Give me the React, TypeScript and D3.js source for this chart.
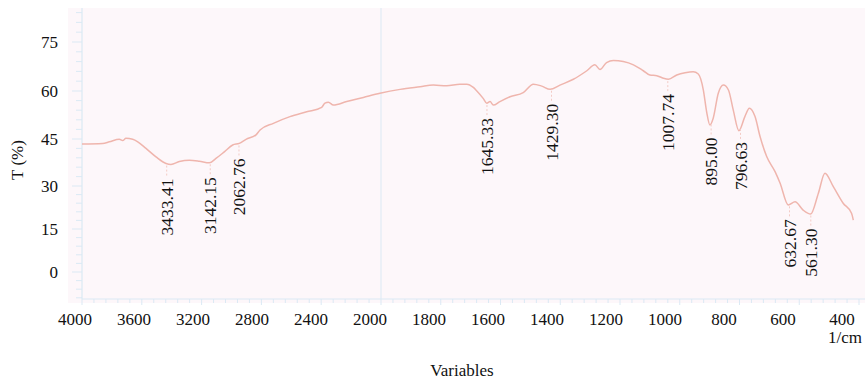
import React from 'react';
import * as d3 from 'd3';

// Spectrum (wavenumber in 1/cm, transmittance in %)
const wavenumbers = [4000, 3862, 3817, 3750, 3728, 3706, 3661, 3627, 3572, 3505, 3438, 3405, 3349, 3282, 3215, 3148, 3104, 3048, 2992, 2948, 2903, 2836, 2809, 2720, 2609, 2497, 2397, 2375, 2352, 2319, 2229, 2118, 2007,
  1936, 1869, 1825, 1780, 1736, 1713, 1691, 1680, 1658, 1646, 1635, 1624, 1602, 1568, 1524, 1490, 1462, 1434, 1401, 1356, 1311, 1284, 1267, 1245, 1222, 1189, 1155, 1122, 1100, 1077, 1055, 1038, 1010, 982, 955, 938, 921, 910, 899, 888, 871, 854, 837, 821, 802, 782, 767, 748, 731, 709, 681, 664, 637, 614, 587, 562, 536, 514, 486, 453, 425, 419];
const transmittance = [43.4, 43.6, 44.1, 44.9, 44.5, 45.2, 44.9, 44.1, 42.0, 39.3, 37.2, 36.9, 37.8, 38.2, 37.9, 37.4, 38.8, 40.9, 43.1, 43.6, 44.9, 46.3, 47.8, 49.9, 52.0, 53.5, 54.9, 56.2, 56.5, 55.6, 56.7, 58.0, 59.3,
  60.5, 61.3, 61.8, 61.6, 62.1, 62.1, 61.1, 60.1, 57.7, 56.2, 56.7, 55.6, 56.7, 58.2, 59.5, 62.1, 61.5, 60.5, 61.8, 63.6, 66.2, 68.0, 66.6, 68.7, 69.3, 69.0, 68.0, 66.2, 64.9, 64.7, 63.9, 63.6, 64.9, 65.6, 65.9, 65.2, 60.3, 53.5, 49.4, 51.5, 59.3, 61.8, 60.3, 54.1, 47.6, 52.0, 54.6, 52.0, 45.7, 39.4, 34.6, 30.9, 23.4, 24.5, 21.6, 20.2, 27.5, 34.1, 29.8, 24.0, 20.5, 18.1];

const xTickValues = [4000, 3600, 3200, 2800, 2400, 2000, 1800, 1600, 1400, 1200, 1000, 800, 600, 400];
const yTickValues = [0, 15, 30, 45, 60, 75];

const peakLabels = ['3433.41', '3142.15', '2062.76', '1645.33', '1429.30', '1007.74', '895.00', '796.63', '632.67', '561.30'];
const peakPositions = [3433.41, 3142.15, 2950, 1645.33, 1429.3, 1040, 895, 796.63, 632.67, 561.3];

const W = 865;
const H = 381;
const FONT = "'Liberation Serif', 'Times New Roman', serif";

export default function App() {
  const x = d3.scaleLinear().domain([4000, 2000, 400]).range([82, 381, 859]);
  const y = d3.scaleLinear().domain([0, 15, 30, 45, 60, 75]).range([272, 229, 186, 139, 91, 42]);
  const xLabel = d3.scalePoint<string>().domain(xTickValues.map(String)).range([75, 842]);

  const data = wavenumbers.map((w, i) => ({ w, t: transmittance[i] }));
  const line = d3.line<{ w: number; t: number }>()
    .x((d) => x(d.w))
    .y((d) => y(d.t))
    .curve(d3.curveMonotoneX);

  const tAt = (w: number) => {
    const asc = [...data].reverse();
    const i = d3.bisector((d: { w: number }) => d.w).left(asc, w);
    const a = asc[Math.max(0, i - 1)];
    const b = asc[Math.min(asc.length - 1, i)];
    if (a.w === b.w) return a.t;
    return a.t + ((w - a.w) / (b.w - a.w)) * (b.t - a.t);
  };

  const plotTop = 8;
  const plotBottom = 299;
  const axisColor = '#dbe9f4';

  const xMinor: number[] = [];
  for (let v = 4000; v > 2000; v -= 80) xMinor.push(v);
  for (let v = 2000; v >= 400; v -= 40) xMinor.push(v);
  const yMinor: number[] = [];
  for (let v = -9; v <= 84; v += 3) yMinor.push(v);

  return (
    <svg width={W} height={H} style={{ display: 'block', position: 'absolute', left: 0, top: 0, background: '#ffffff' }}>
      <rect x={68} y={plotTop} width={W - 68} height={303 - plotTop} fill="#fdf7fa" />
      <line x1={82} x2={82} y1={plotTop} y2={plotBottom} stroke={axisColor} strokeWidth={1.2} />
      <line x1={82} x2={W} y1={plotBottom} y2={plotBottom} stroke={axisColor} strokeWidth={1} />
      <line x1={x(2000)} x2={x(2000)} y1={plotTop} y2={plotBottom} stroke={axisColor} strokeWidth={1} />
      {yMinor.map((v) => (
        <line key={'ym' + v} x1={v % 15 === 0 ? 72 : 76} x2={82} y1={y(v)} y2={y(v)} stroke={axisColor} strokeWidth={1} />
      ))}
      {xMinor.map((v) => (
        <line key={'xm' + v} x1={x(v)} x2={x(v)} y1={plotBottom} y2={xTickValues.includes(v) ? 305 : 303} stroke={axisColor} strokeWidth={1} />
      ))}
      <path d={line(data) || ''} fill="none" stroke="#efb5ad" strokeWidth={1.5} />
      {peakLabels.map((lab, i) => {
        const px = x(peakPositions[i]);
        const cy = y(tAt(peakPositions[i]));
        const top = cy + 15;
        return (
          <g key={lab}>
            <line x1={px} x2={px} y1={cy + 2} y2={top - 1} stroke="#f3cbc5" strokeWidth={1} strokeDasharray="2,2" />
            <text
              transform={`translate(${px},${top}) rotate(-90)`}
              dy="0.35em"
              textAnchor="end"
              fontFamily={FONT}
              fontSize={17.5}
              fill="#111"
            >
              {lab}
            </text>
          </g>
        );
      })}
      {yTickValues.map((v) => (
        <text key={'yt' + v} x={58} y={y(v)} dy="0.35em" textAnchor="end" fontFamily={FONT} fontSize={17} fill="#111">
          {v}
        </text>
      ))}
      {xTickValues.map((v) => (
        <text key={'xt' + v} x={xLabel(String(v))} y={325} textAnchor="middle" fontFamily={FONT} fontSize={17} fill="#111">
          {v}
        </text>
      ))}
      <text x={862} y={343} textAnchor="end" fontFamily={FONT} fontSize={17} fill="#111">1/cm</text>
      <text x={462} y={376} textAnchor="middle" fontFamily={FONT} fontSize={17} fill="#111">Variables</text>
      <text transform="translate(17.5,160) rotate(-90)" dy="0.35em" textAnchor="middle" fontFamily={FONT} fontSize={17} fill="#111">
        T (%)
      </text>
    </svg>
  );
}
